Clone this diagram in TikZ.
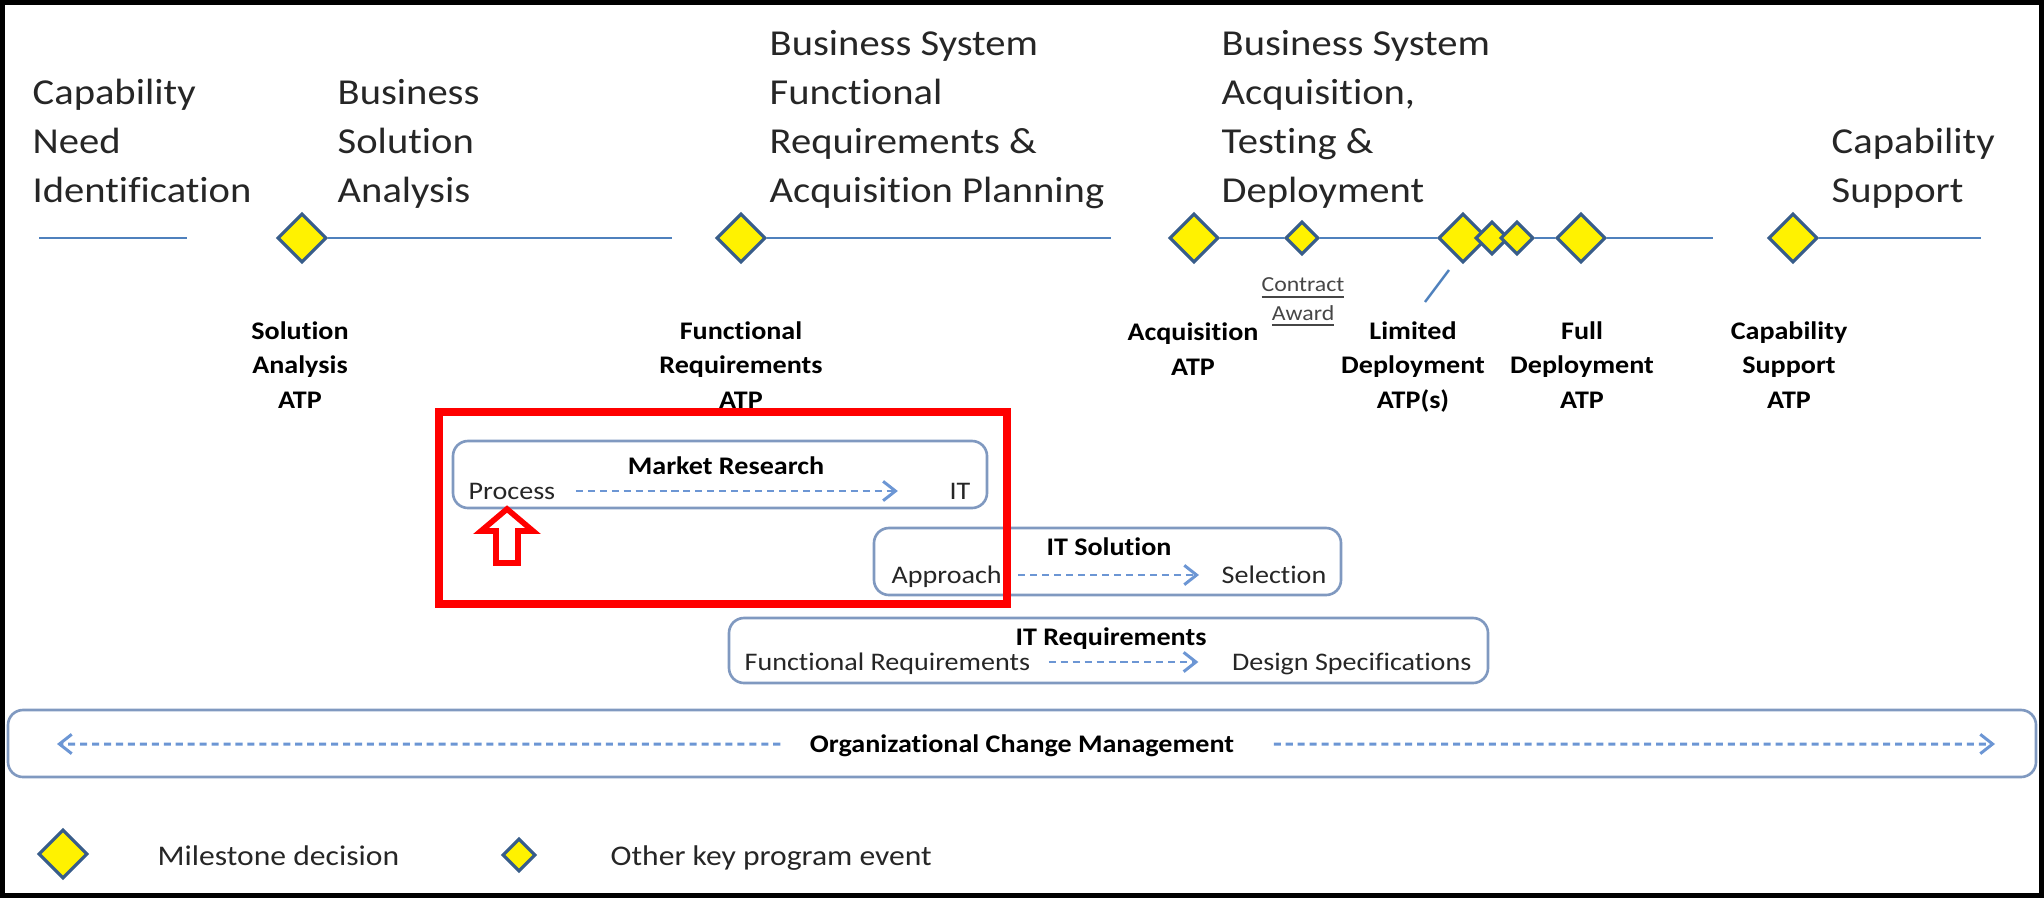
\documentclass[tikz,border=0pt]{standalone}
\usepackage{fontspec}
\setmainfont{Carlito}[FakeStretch=1.11, Ligatures=NoCommon]
\usepackage{tikz}
\usetikzlibrary{positioning,shapes.geometric,arrows.meta}

\definecolor{tlblue}{RGB}{79,129,189}
\definecolor{dmdblue}{RGB}{56,93,138}
\definecolor{boxblue}{RGB}{128,153,192}
\definecolor{flowblue}{RGB}{108,150,212}
\definecolor{txtgray}{RGB}{38,38,38}
\definecolor{awdgray}{RGB}{70,70,70}

\begin{document}
\begin{tikzpicture}[>={Straight Barb[length=3.5pt,width=5.5pt]}]

\tikzstyle{phase}=[font=\fontsize{10.4}{13.9}\selectfont, text=txtgray, align=left, inner sep=0pt, anchor=base west]
\tikzstyle{atp}=[font=\fontsize{7.2}{9.7}\selectfont\bfseries, align=center, inner sep=0pt, anchor=base]
\tikzstyle{milestone}=[diamond, aspect=1, draw=dmdblue, fill=yellow, line width=0.9pt, inner sep=0pt, minimum size=0.49cm]
\tikzstyle{event}=[milestone, minimum size=0.33cm]
\tikzstyle{track}=[draw=tlblue, line width=0.7pt]
\tikzstyle{stage}=[draw=boxblue, line width=0.75pt, rounded corners=0.15cm, inner sep=0pt]
\tikzstyle{word}=[font=\fontsize{7.2}{9.7}\selectfont, text=txtgray, inner sep=0pt, text height=0.16cm, text depth=0pt]
\tikzstyle{flow}=[->, draw=flowblue, line width=0.85pt, dash pattern=on 2pt off 1.4pt]
\tikzstyle{legend}=[font=\fontsize{8.1}{10}\selectfont, text=txtgray, inner sep=0pt, anchor=base west]

\useasboundingbox (0,0) rectangle (20.44,-8.98);
\draw[line width=0.055cm] (0.0275,-0.0275) rectangle (20.4125,-8.9525);

% phase headings (anchored on last line)
\node[phase] (cni) at (0.32,-2.02) {Capability\\Need\\Identification};
\node[phase] (bsa) at (3.37,-2.02) {Business\\Solution\\Analysis};
\node[phase] (bsfr) at (7.69,-2.02) {Business System\\Functional\\Requirements \&\\Acquisition Planning};
\node[phase] (bsat) at (12.21,-2.02) {Business System\\Acquisition,\\Testing \&\\Deployment};
\node[phase] (csp) at (18.31,-2.02) {Capability\\Support};

% timeline
\node[milestone] (sa) at (3.02,-2.38) {};
\node[milestone] (fr) at (7.41,-2.38) {};
\node[milestone] (acq) at (11.94,-2.38) {};
\node[event] (ca) at (13.02,-2.38) {};
\node[milestone] (ld) at (14.63,-2.38) {};
\node[event] (ldb) at (14.92,-2.38) {};
\node[event] (ldc) at (15.17,-2.38) {};
\node[milestone] (fd) at (15.81,-2.38) {};
\node[milestone] (cs) at (17.93,-2.38) {};

\coordinate (t1a) at (0.39,-2.38);
\coordinate (t1b) at (1.87,-2.38);
\coordinate (t2) at (6.72,-2.38);
\coordinate (t3) at (11.11,-2.38);
\coordinate (t4) at (17.13,-2.38);
\coordinate (t5) at (19.81,-2.38);

\draw[track] (t1a) -- (t1b);
\foreach \a/\b in {sa/t2,fr/t3,acq/ca,ca/ld,ldc/fd,fd/t4,cs/t5}
    \draw[track] (\a) -- (\b);

\coordinate (ldrA) at (14.49,-2.70);
\coordinate (ldrB) at (14.25,-3.02);
\draw[track] (ldrA) -- (ldrB);

% decision labels (anchored on last line)
\node[atp] (saL) at (3.00,-4.08) {Solution\\Analysis\\ATP};
\node[atp] (frL) at (7.41,-4.08) {Functional\\Requirements\\ATP};
\node[atp] (acqL) at (11.93,-3.75) {Acquisition\\ATP};
\node[atp] (ldL) at (14.13,-4.08) {Limited\\Deployment\\ATP(s)};
\node[atp] (fdL) at (15.82,-4.08) {Full\\Deployment\\ATP};
\node[atp] (csL) at (17.89,-4.08) {Capability\\Support\\ATP};
\node[font=\fontsize{6.1}{8}\selectfont, text=awdgray, align=center, inner sep=0pt, anchor=base] (caL) at (13.03,-3.20) {\underline{Contract}\\\underline{Award}};

% work streams
\node[stage, minimum width=5.34cm, minimum height=0.67cm] (mr) at (7.20,-4.745) {};
\node[atp] (mrT) at (7.26,-4.74) {Market Research};
\node[word, anchor=base west] (proc) at (4.68,-4.99) {Process};
\node[word, anchor=base east] (mrit) at (9.71,-4.99) {IT};
\draw[flow, shorten <=0.2cm, shorten >=0.51cm] (proc) -- (mrit);

\node[stage, minimum width=4.67cm, minimum height=0.67cm] (its) at (11.075,-5.615) {};
\node[atp] (itsT) at (11.09,-5.55) {IT Solution};
\node[word, anchor=base west] (appr) at (8.91,-5.83) {Approach};
\node[word, anchor=base east] (sel) at (13.27,-5.83) {Selection};
\draw[flow, shorten <=0.16cm, shorten >=0.22cm] (appr) -- (sel);

\node[stage, minimum width=7.59cm, minimum height=0.65cm] (itr) at (11.085,-6.505) {};
\node[atp] (itrT) at (11.11,-6.45) {IT Requirements};
\node[word, anchor=base west] (freq) at (7.44,-6.70) {Functional Requirements};
\node[word, anchor=base east] (dspec) at (14.72,-6.70) {Design Specifications};
\draw[flow, shorten <=0.18cm, shorten >=0.33cm] (freq) -- (dspec);

\node[stage, minimum width=20.28cm, minimum height=0.67cm] (ocmbox) at (10.22,-7.435) {};
\node[word, font=\fontsize{7.2}{9.7}\selectfont\bfseries, text=black, anchor=base] (ocm) at (10.22,-7.52) {Organizational Change Management};
\coordinate (ocmL) at (0.57,-7.44);
\coordinate (ocmR) at (19.95,-7.44);
\draw[flow, shorten <=0.29cm] (ocm) -- (ocmL);
\draw[flow, shorten <=0.39cm] (ocm) -- (ocmR);

% legend
\node[milestone] (lgM) at (0.63,-8.54) {};
\node[legend] (lgMt) at (1.57,-8.65) {Milestone decision};
\node[event] (lgE) at (5.19,-8.55) {};
\node[legend] (lgEt) at (6.10,-8.65) {Other key program event};

% highlight
\draw[red, line width=2.3pt] (4.39,-4.12) rectangle (10.07,-6.04);
\draw[red, line width=1.6pt, fill=white] (5.07,-5.09) -- (5.33,-5.31) -- (5.18,-5.31) -- (5.18,-5.63) -- (4.96,-5.63) -- (4.96,-5.31) -- (4.81,-5.31) -- cycle;

\end{tikzpicture}
\end{document}
